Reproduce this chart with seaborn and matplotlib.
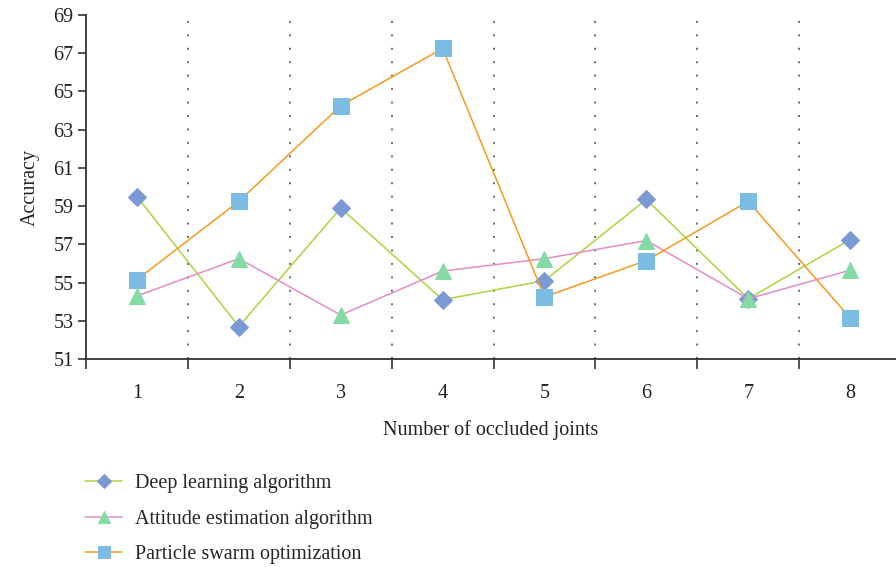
import matplotlib.pyplot as plt
import matplotlib.ticker as ticker
import seaborn as sns
import pandas as pd

# valeurs
joints = [1, 2, 3, 4, 5, 6, 7, 8]
deep_learning = [59.5, 52.7, 58.9, 54.1, 55.1, 59.35, 54.15, 57.25]
attitude = [54.3, 56.25, 53.3, 55.6, 56.25, 57.2, 54.15, 55.65]
pso = [55.15, 59.25, 64.25, 67.25, 54.25, 56.15, 59.25, 53.15]
series_names = ["Deep learning algorithm", "Attitude estimation algorithm",
                "Particle swarm optimization"]
y_ticks = [51, 53, 55, 57, 59, 61, 63, 65, 67, 69]

df = pd.DataFrame({"joints": joints,
                   series_names[0]: deep_learning,
                   series_names[1]: attitude,
                   series_names[2]: pso})

sns.set_style("white")
plt.rcParams["font.family"] = ["Liberation Serif", "DejaVu Serif"]

styles = {
    series_names[0]: dict(line="#a9d63c", face="#7b9ad5", marker="D", ms=9),
    series_names[1]: dict(line="#e58bcb", face="#84dba3", marker="^", ms=11),
    series_names[2]: dict(line="#f59b1c", face="#7dbce2", marker="s", ms=11),
}

fig = plt.figure(figsize=(8.96, 5.67), dpi=100)
ax = fig.add_axes([86 / 896, 1 - 359 / 567, (896 - 86) / 896, (359 - 15) / 567])

for name in series_names:
    st = styles[name]
    sns.lineplot(data=df, x="joints", y=name, ax=ax, color=st["line"], linewidth=1.1,
                 marker=st["marker"], markersize=st["ms"], markerfacecolor=st["face"],
                 markeredgecolor=st["face"], label=name, zorder=3)

# séparateurs pointillés entre catégories
for b in [1.5, 2.5, 3.5, 4.5, 5.5, 6.5, 7.5]:
    ax.axvline(b, color="#444444", linestyle=(0, (1.3, 7.5)), linewidth=1.1, zorder=1)

ax.set_ylim(51, 69)
ax.set_xlim(0.5, 8.45)
ax.yaxis.set_major_locator(ticker.FixedLocator(y_ticks))
ax.set_xticks([0.5, 1.5, 2.5, 3.5, 4.5, 5.5, 6.5, 7.5])
ax.set_xticklabels([])
ax.set_xticks(joints, minor=True)
ax.set_xticklabels([str(j) for j in joints], minor=True)
ax.tick_params(axis="x", which="major", direction="out", length=7, width=1.2, color="#333333")
ax.tick_params(axis="x", which="minor", length=0, pad=18, labelsize=14.5, labelcolor="#222222")
ax.tick_params(axis="y", direction="out", length=6, width=1.2, color="#333333",
               labelsize=14.5, labelcolor="#222222", pad=3)
ax.yaxis.set_tick_params(left=True)
ax.xaxis.set_tick_params(bottom=True)

for s in ["top", "right"]:
    ax.spines[s].set_visible(False)
for s in ["left", "bottom"]:
    ax.spines[s].set_color("#333333")
    ax.spines[s].set_linewidth(1.3)

ax.set_xlabel("Number of occluded joints", fontsize=14.5, color="#222222", labelpad=12)
ax.set_ylabel("Accuracy", fontsize=14.5, color="#222222", labelpad=10)

handles, labels = ax.get_legend_handles_labels()
ax.legend(handles, labels, loc="upper left", bbox_to_anchor=(67 / 896, 1 - 456 / 567),
          bbox_transform=fig.transFigure, frameon=False, fontsize=14.5,
          handlelength=1.85, labelspacing=0.82, handletextpad=0.65, markerscale=0.8)

fig.savefig("out.png", dpi=100)
